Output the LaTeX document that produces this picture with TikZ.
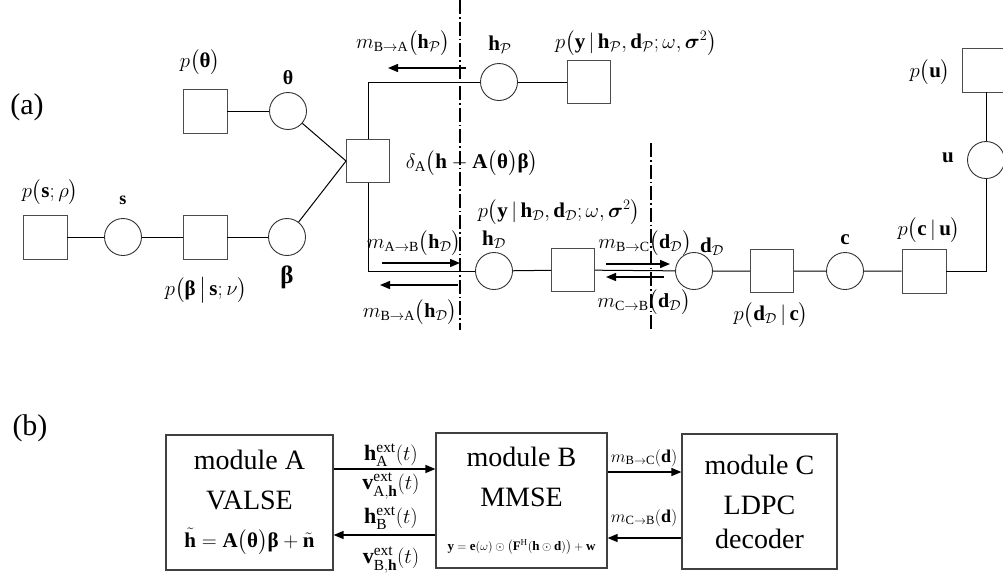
\documentclass[tikz,border=0pt]{standalone}
\usepackage{amsmath}
\usepackage{bm}
\usepackage{fontspec}
\setmainfont{Liberation Serif}
\usepackage{tikz}
\usetikzlibrary{arrows.meta}
\tikzstyle{factor}=[rectangle,draw=black!70,line width=0.9pt,minimum size=44pt,inner sep=0pt]
\tikzstyle{var}=[circle,draw=black!80,line width=0.9pt,minimum size=37pt,inner sep=0pt]
\tikzstyle{module}=[rectangle,draw=black!75,line width=1.2pt,inner sep=0pt,align=center,font=\fontsize{28}{40}\selectfont]
\tikzstyle{msg}=[-{Triangle[length=10pt,width=8pt]},line width=1.4pt]
\tikzstyle{cut}=[line width=1.3pt,dash pattern=on 14pt off 3pt on 1.5pt off 3pt]
\tikzstyle{lbl}=[inner sep=0pt,font=\fontsize{21}{25}\selectfont]
\tikzstyle{tag}=[inner sep=0pt,font=\fontsize{30}{36}\selectfont]
\newcommand{\vth}{\text{\bfseries θ}}
\newcommand{\vbeta}{\text{\bfseries β}}
\newcommand{\vsig}{\boldsymbol{\sigma}}
\newcommand{\vh}{\mathbf{h}}
\newcommand{\vd}{\mathbf{d}}
\newcommand{\vy}{\mathbf{y}}
\newcommand{\cD}{\mathcal{D}}
\newcommand{\cP}{\mathcal{P}}

\begin{document}
\begin{tikzpicture}[x=1pt,y=-1pt]
        \useasboundingbox (0,0) rectangle (1003,576);
        \clip (0,0) rectangle (1003,576);

        % (a) factor graph
        \node at (27,107) [tag] (ta) {(a)};
        \draw [cut] (460,0) -- (460,330);
        \draw [cut] (651,143) -- (651,330);

        \node at (45,237)  [factor] (fs) {};
        \node at (123,237) [var]    (s) {};
        \node at (205,237) [factor] (fbeta) {};
        \node at (287,237) [var]    (beta) {};
        \node at (205,111) [factor] (fth) {};
        \node at (288,111) [var]    (th) {};
        \node at (368,161) [factor,minimum size=43pt] (fdelta) {};
        \node at (499,82)  [var]    (hP) {};
        \node at (589,82)  [factor,minimum size=43pt] (fyP) {};
        \node at (494,271) [var]    (hD) {};
        \node at (573,270) [factor,minimum size=43pt] (fyD) {};
        \node at (694,271) [var]    (dD) {};
        \node at (772,271) [factor,minimum size=43pt] (fdc) {};
        \node at (845,271) [var]    (c) {};
        \node at (924,271) [factor] (fcu) {};
        \node at (986,160) [var]    (u) {};
        \node at (984,70)  [factor] (fu) {};

        \draw [line width=1pt] (fs) -- (s) -- (fbeta) -- (beta);
        \draw [line width=1pt] (fth) -- (th);
        \draw [line width=1pt] (th) -- (fdelta.west);
        \draw [line width=1pt] (beta) -- (fdelta.west);
        \draw [line width=1pt] (fdelta) |- (hP);
        \draw [line width=1pt] (hP) -- (fyP);
        \draw [line width=1pt] (fdelta) |- (hD);
        \draw [line width=1pt] (hD) -- (fyD) -- (dD) -- (fdc) -- (c) -- (fcu);
        \draw [line width=1pt] (fcu) -| (u);
        \draw [line width=1pt] (u) -- (fu.south -| u);

        \node at (200,62)  [lbl] (lth) {$p\bigl(\vth\bigr)$};
        \node at (288,78)  [lbl,font=\fontsize{20}{24}\selectfont] (lvth) {$\vth$};
        \node at (50,192)  [lbl] (ls) {$p\bigl(\mathbf{s};\rho\bigr)$};
        \node at (123,200) [lbl,font=\fontsize{18}{22}\selectfont] (lvs) {$\mathbf{s}$};
        \node at (206,290) [lbl] (lbeta) {$p\bigl(\vbeta\,\big|\,\mathbf{s};\nu\bigr)$};
        \node at (287,277) [lbl,font=\fontsize{25}{28}\selectfont] (lvbeta) {$\vbeta$};
        \node at (472,163) [lbl] (ldelta) {$\delta_{\mathrm{A}}\bigl(\vh-\mathbf{A}\bigl(\vth\bigr)\vbeta\bigr)$};
        \node at (500,45)  [lbl] (lhP) {$\vh_{\cP}$};
        \node at (636,43)  [lbl] (lyP) {$p\bigl(\vy\,|\,\vh_{\cP},\vd_{\cP};\omega,\vsig^2\bigr)$};
        \node at (494,240) [lbl] (lhD) {$\vh_{\cD}$};
        \node at (559,212) [lbl] (lyD) {$p\bigl(\vy\,|\,\vh_{\cD},\vd_{\cD};\omega,\vsig^2\bigr)$};
        \node at (712,247) [lbl] (ldD) {$\vd_{\cD}$};
        \node at (771,315) [lbl] (ldc) {$p\bigl(\vd_{\cD}\,|\,\mathbf{c}\bigr)$};
        \node at (845,240) [lbl] (lc) {$\mathbf{c}$};
        \node at (929,230) [lbl] (lcu) {$p\bigl(\mathbf{c}\,|\,\mathbf{u}\bigr)$};
        \node at (948,158) [lbl] (lu) {$\mathbf{u}$};
        \node at (930,72)  [lbl] (lfu) {$p\bigl(\mathbf{u}\bigr)$};

        % messages across the cuts
        \coordinate (bap1) at (466,68);
        \coordinate (bap2) at (388,68);
        \coordinate (abd1) at (382,263);
        \coordinate (abd2) at (460,263);
        \coordinate (bad1) at (458,285);
        \coordinate (bad2) at (380,285);
        \coordinate (bcd1) at (606,264);
        \coordinate (bcd2) at (670,264);
        \coordinate (cbd1) at (664,277);
        \coordinate (cbd2) at (606,277);
        \draw [msg] (bap1) -- (bap2);
        \draw [msg] (abd1) -- (abd2);
        \draw [msg] (bad1) -- (bad2);
        \draw [msg] (bcd1) -- (bcd2);
        \draw [msg] (cbd1) -- (cbd2);
        \node at (403,43)  [lbl,font=\fontsize{20}{24}\selectfont] (lbap) {$m_{\mathrm{B\to A}}\bigl(\vh_{\cP}\bigr)$};
        \node at (414,243) [lbl,font=\fontsize{20}{24}\selectfont] (labd) {$m_{\mathrm{A\to B}}\bigl(\vh_{\cD}\bigr)$};
        \node at (410,312) [lbl,font=\fontsize{20}{24}\selectfont] (lbad) {$m_{\mathrm{B\to A}}\bigl(\vh_{\cD}\bigr)$};
        \node at (645,243) [lbl,font=\fontsize{20}{24}\selectfont] (lbcd) {$m_{\mathrm{B\to C}}\bigl(\vd_{\cD}\bigr)$};
        \node at (644,302) [lbl,font=\fontsize{20}{24}\selectfont] (lcbd) {$m_{\mathrm{C\to B}}\bigl(\vd_{\cD}\bigr)$};

        % (b) modules
        \node at (30,428) [tag] (tb) {(b)};
        \node at (249.5,502.5) [module,minimum width=167pt,minimum height=135pt] (modA)
          {module A\\VALSE\\[-2pt]{\fontsize{21}{25}\selectfont$\tilde{\vh}=\mathbf{A}\bigl(\vth\bigr)\vbeta+\tilde{\mathbf{n}}$}};
        \node at (521.5,500.5) [module,minimum width=171pt,minimum height=135pt] (modB)
          {module B\\MMSE\\[4pt]{\fontsize{13}{15}\selectfont$\vy=\mathbf{e}(\omega)\odot\bigl(\mathbf{F}^{\mathrm{H}}(\vh\odot\vd)\bigr)+\mathbf{w}$}};
        \node at (759.5,501.5) [module,minimum width=155pt,minimum height=135pt] (modC)
          {module C\\LDPC\\[-6pt]decoder};

        \coordinate (yab) at (0,469);
        \coordinate (yba) at (0,535);
        \coordinate (ybc) at (0,472);
        \coordinate (ycb) at (0,538);
        \draw [msg] (modA.east |- yab) -- (modB.west |- yab);
        \draw [msg] (modB.west |- yba) -- (modA.east |- yba);
        \draw [msg] (modB.east |- ybc) -- (modC.west |- ybc);
        \draw [msg] (modC.west |- ycb) -- (modB.east |- ycb);
        \node at (391,455) [lbl,font=\fontsize{22}{26}\selectfont] (lhA) {$\vh_{\mathrm{A}}^{\mathrm{ext}}(t)$};
        \node at (391,486) [lbl,font=\fontsize{22}{26}\selectfont] (lvA) {$\mathbf{v}_{\mathrm{A},\vh}^{\mathrm{ext}}(t)$};
        \node at (391,518) [lbl,font=\fontsize{22}{26}\selectfont] (lhB) {$\vh_{\mathrm{B}}^{\mathrm{ext}}(t)$};
        \node at (391,560) [lbl,font=\fontsize{22}{26}\selectfont] (lvB) {$\mathbf{v}_{\mathrm{B},\vh}^{\mathrm{ext}}(t)$};
        \node at (644,458) [lbl,font=\fontsize{18}{22}\selectfont] (lmbc) {$m_{\mathrm{B\to C}}(\vd)$};
        \node at (644,518) [lbl,font=\fontsize{18}{22}\selectfont] (lmcb) {$m_{\mathrm{C\to B}}(\vd)$};
      \end{tikzpicture}
\end{document}
